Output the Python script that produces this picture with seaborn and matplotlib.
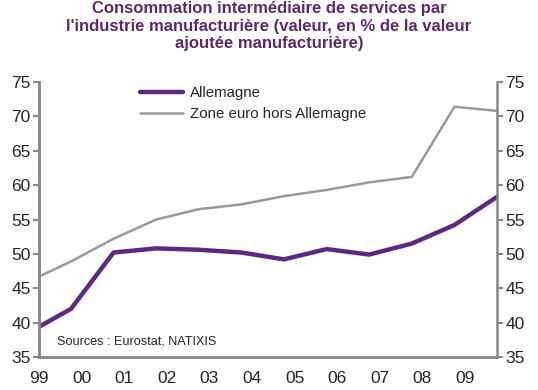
import matplotlib
matplotlib.use("Agg")
import matplotlib.pyplot as plt
from matplotlib.lines import Line2D
import seaborn as sns
import pandas as pd

# Data (x in years since 1999, points near year end)
x_pos = [0, 0.75, 1.75, 2.75, 3.75, 4.75, 5.75, 6.75, 7.75, 8.75, 9.75, 10.75]
allemagne = [39.4, 42.0, 50.2, 50.8, 50.6, 50.2, 49.2, 50.7, 49.9, 51.5, 54.2, 58.3]
zone_euro = [46.7, 48.9, 52.2, 55.0, 56.5, 57.2, 58.4, 59.3, 60.4, 61.2, 71.4, 70.8]
year_labels = ["99", "00", "01", "02", "03", "04", "05", "06", "07", "08", "09"]
y_ticks = [35, 40, 45, 50, 55, 60, 65, 70, 75]

df = pd.DataFrame({
    "x": x_pos * 2,
    "valeur": allemagne + zone_euro,
    "serie": ["Allemagne"] * len(x_pos) + ["Zone euro hors Allemagne"] * len(x_pos),
})

sns.set_style("white")
plt.rcParams["font.family"] = ["Liberation Sans", "DejaVu Sans"]

purple = "#5B2A7E"
grey = "#999999"
spine_c = "#888888"

fig = plt.figure(figsize=(5.38, 3.9), dpi=100)
ax = fig.add_axes([0.0725, 0.0846, 0.8513, 0.7051])

sns.lineplot(data=df, x="x", y="valeur", hue="serie", palette={"Allemagne": purple, "Zone euro hors Allemagne": grey},
             size="serie", sizes={"Allemagne": 3.2, "Zone euro hors Allemagne": 1.8}, ax=ax, legend=False)

ax.set_xlim(0, 10.75)
ax.set_ylim(35, 75)
ax.set_yticks(y_ticks)
ax.set_xticks(range(len(year_labels)))
ax.set_xticklabels(year_labels, fontsize=12.5)
ax.tick_params(axis="x", direction="out", length=4, width=1.5, color=spine_c, pad=6)
ax.tick_params(axis="y", direction="out", length=4, width=1.5, color=spine_c, labelsize=12.5, pad=2)
ax.set_xlabel("")
ax.set_ylabel("")

ax2 = ax.twinx()
ax2.set_ylim(35, 75)
ax2.set_yticks(y_ticks)
ax2.tick_params(axis="y", direction="out", length=4, width=1.5, color=spine_c, labelsize=12.5, pad=2)

for a in (ax, ax2):
    a.spines["top"].set_visible(False)
    for s in ("left", "right", "bottom"):
        a.spines[s].set_color(spine_c)
        a.spines[s].set_linewidth(1.8)
ax.spines["right"].set_visible(False)

handles = [Line2D([0], [0], color=purple, lw=3.2), Line2D([0], [0], color=grey, lw=1.8)]
ax.legend(handles, ["Allemagne", "Zone euro hors Allemagne"], loc="upper left", bbox_to_anchor=(0.19, 1.035),
          frameon=False, fontsize=10.8, handlelength=2.9, handletextpad=0.45, labelspacing=0.5)

ax.text(0.04, 0.055, "Sources : Eurostat, NATIXIS", transform=ax.transAxes, fontsize=9.1, va="center")

fig.text(0.5, 0.997, "Consommation intermédiaire de services par\nl'industrie manufacturière (valeur, en % de la valeur\najoutée manufacturière)",
         ha="center", va="top", fontsize=12, fontweight="bold", color="#5B2A6E", linespacing=1.2)

fig.savefig("out.png", dpi=100)
